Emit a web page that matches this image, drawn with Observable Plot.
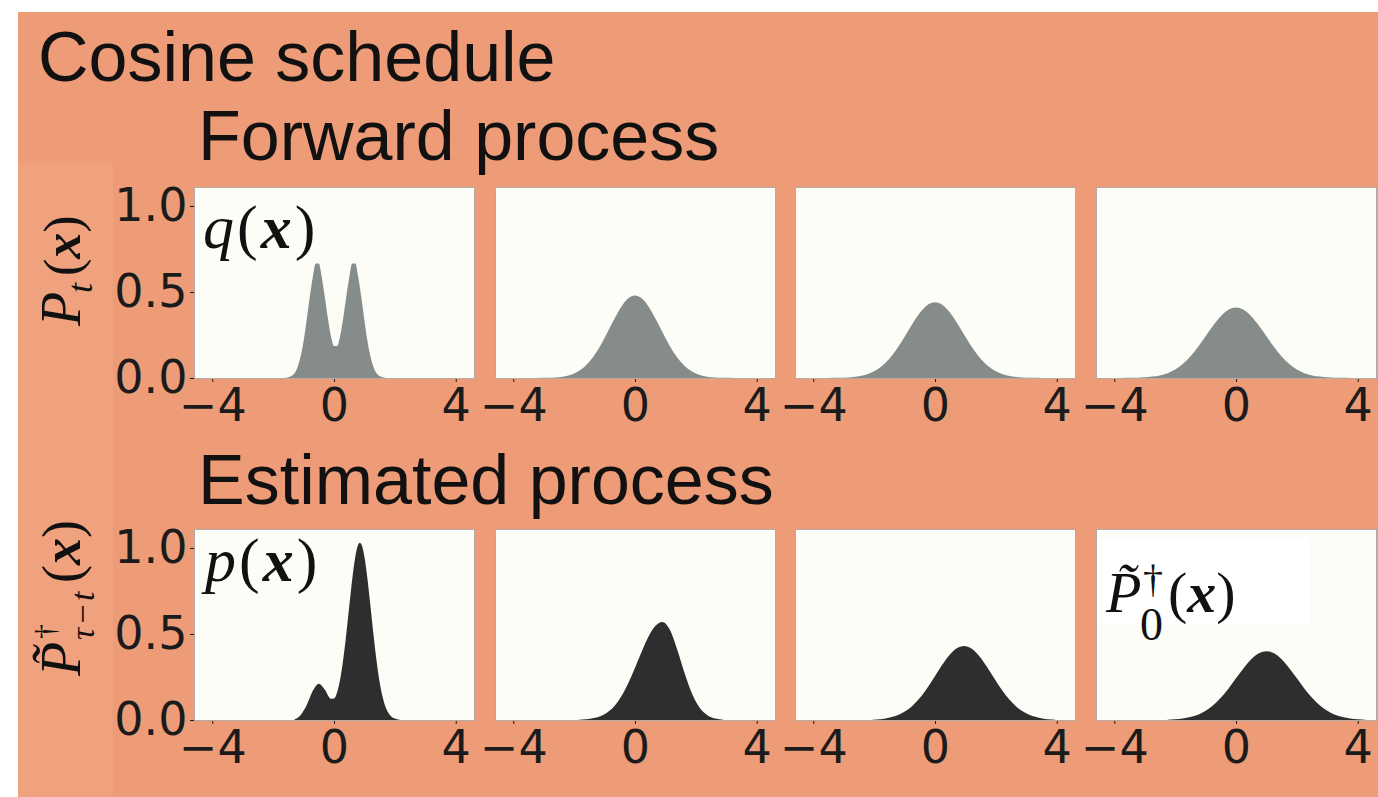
<!DOCTYPE html>
<html>
<head>
<meta charset="utf-8">
<script src="https://cdn.jsdelivr.net/npm/d3@7"></script>
<script src="https://cdn.jsdelivr.net/npm/@observablehq/plot@0.6"></script>
<style>
  html, body { margin: 0; padding: 0; background: #ffffff; }
  #root { position: relative; width: 1378px; height: 797px; overflow: hidden; background: #ffffff; }
  #root svg.panel { position: absolute; }
</style>
</head>
<body>
<div id="root"></div>
<script>
// ---------- data ----------
const xTicks = [-4, 0, 4];
const yTicks = [0, 0.5, 1];
const mainTitle = "Cosine schedule";
const rowTitles = ["Forward process", "Estimated process"];

// forward process, first panel q(x)
const qX = [-1.6,-1.4,-1.2,-1.1,-1.0,-0.9,-0.8,-0.7,-0.6,-0.5,-0.4,-0.3,-0.2,-0.1,0,0.1,0.2,0.3,0.4,0.5,0.6,0.7,0.8,0.9,1.0,1.1,1.2,1.3,1.5,1.7];
const qY = [0.001,0.012,0.063,0.123,0.214,0.334,0.466,0.582,0.665,0.665,0.583,0.470,0.346,0.243,0.186,0.186,0.243,0.346,0.470,0.583,0.665,0.665,0.582,0.466,0.334,0.214,0.123,0.063,0.012,0.001];

// forward process, panels 2-4 (shared x grid)
const fwdX = [-4,-3.75,-3.5,-3.25,-3,-2.75,-2.5,-2.25,-2,-1.75,-1.5,-1.25,-1,-0.75,-0.5,-0.25,0,0.25,0.5,0.75,1,1.25,1.5,1.75,2,2.25,2.5,2.75,3,3.25,3.5,3.75,4];
const fwd2Y = [0,0,0,0,0.001,0.002,0.005,0.012,0.026,0.052,0.094,0.154,0.232,0.319,0.400,0.459,0.480,0.459,0.400,0.319,0.232,0.154,0.094,0.052,0.026,0.012,0.005,0.002,0.001,0,0,0,0];
const fwd3Y = [0,0,0,0.001,0.002,0.004,0.010,0.020,0.039,0.068,0.112,0.170,0.240,0.313,0.378,0.424,0.440,0.424,0.378,0.313,0.240,0.170,0.112,0.068,0.039,0.020,0.010,0.004,0.002,0.001,0,0,0];
const fwd4Y = [0,0,0.001,0.002,0.004,0.008,0.015,0.028,0.050,0.081,0.125,0.180,0.242,0.305,0.359,0.397,0.410,0.397,0.359,0.305,0.242,0.180,0.125,0.081,0.050,0.028,0.015,0.008,0.004,0.002,0.001,0,0];

// estimated process, first panel p(x)
const pX = [-1.3,-1.1,-0.9,-0.7,-0.5,-0.3,-0.1,0,0.1,0.2,0.3,0.4,0.5,0.6,0.7,0.8,0.85,0.9,1.0,1.1,1.2,1.3,1.4,1.5,1.6,1.7,1.8,2.0,2.2];
const pY = [0.003,0.028,0.086,0.168,0.211,0.176,0.124,0.125,0.160,0.234,0.348,0.494,0.659,0.820,0.949,1.021,1.03,1.021,0.949,0.820,0.659,0.492,0.342,0.220,0.132,0.073,0.038,0.008,0];

// estimated process, panels 2-4
const est2X = [-1.85,-1.6,-1.35,-1.1,-0.85,-0.6,-0.35,-0.1,0.15,0.4,0.65,0.9,1.15,1.4,1.65,1.9,2.15,2.4,2.65,2.9];
const est2Y = [0.001,0.004,0.011,0.025,0.052,0.098,0.168,0.261,0.367,0.469,0.543,0.57,0.523,0.403,0.261,0.142,0.065,0.025,0.008,0.002];
const est3X = [-2.05,-1.8,-1.55,-1.3,-1.05,-0.8,-0.55,-0.3,-0.05,0.2,0.45,0.7,0.95,1.2,1.45,1.7,1.95,2.2,2.45,2.7,2.95,3.2,3.45,3.7,3.95];
const est3Y = [0.002,0.005,0.012,0.023,0.043,0.073,0.117,0.174,0.241,0.311,0.372,0.415,0.43,0.415,0.372,0.311,0.241,0.174,0.117,0.073,0.043,0.023,0.012,0.005,0.002];
const est4X = [-2.25,-2,-1.75,-1.5,-1.25,-1,-0.75,-0.5,-0.25,0,0.25,0.5,0.75,1,1.25,1.5,1.75,2,2.25,2.5,2.75,3,3.25,3.5,3.75,4,4.25];
const est4Y = [0.002,0.004,0.009,0.017,0.031,0.054,0.086,0.129,0.182,0.242,0.301,0.353,0.388,0.40,0.388,0.353,0.301,0.242,0.182,0.129,0.086,0.054,0.031,0.017,0.009,0.004,0.002];

// ---------- layout & style ----------
const colLeft = [194, 495, 795, 1096];
const rowTop = [187, 529];
const PW = 280, PH = 191;
const ML = 110, MR = 40, MT = 10, MB = 70;
const rowFill = ["#868c8a", "#2e2e2e"];
const bgOrange = "#ee9b77";

const series = [
  {row: 0, col: 0, x: qX, y: qY},
  {row: 0, col: 1, x: fwdX, y: fwd2Y},
  {row: 0, col: 2, x: fwdX, y: fwd3Y},
  {row: 0, col: 3, x: fwdX, y: fwd4Y},
  {row: 1, col: 0, x: pX, y: pY},
  {row: 1, col: 1, x: est2X, y: est2Y},
  {row: 1, col: 2, x: est3X, y: est3Y},
  {row: 1, col: 3, x: est4X, y: est4Y}
];

const root = document.getElementById("root");

// background
const bg = document.createElement("div");
bg.style.cssText = `position:absolute;left:18px;top:12px;right:0;bottom:0;background:${bgOrange}`;
root.appendChild(bg);
const strip = document.createElement("div");
strip.style.cssText = "position:absolute;left:18px;top:163px;width:95px;bottom:0;background:#f0a27f";
root.appendChild(strip);

const fmtX = d => d < 0 ? "\u2212" + (-d) : String(d);

for (const s of series) {
  const data = s.x.map((x, i) => ({x, y: s.y[i]}));
  const svg = Plot.plot({
    width: PW + ML + MR,
    height: PH + MT + MB,
    marginLeft: ML, marginRight: MR, marginTop: MT, marginBottom: MB,
    style: {
      background: "transparent", overflow: "visible", maxWidth: "none",
      fontFamily: "DejaVu Sans, sans-serif", fontSize: "46px", color: "#1b1b1b"
    },
    x: {domain: [-4.6, 4.6], ticks: xTicks, tickSize: 4, tickPadding: 6, tickFormat: fmtX, label: null},
    y: s.col === 0
      ? {domain: [0, 1.11], ticks: yTicks, tickSize: 4, tickPadding: 3, tickFormat: d3.format(".1f"), label: null}
      : {domain: [0, 1.11], axis: null},
    marks: [
      Plot.frame({fill: "#fcfdf7", stroke: "none"}),
      Plot.areaY(data, {x: "x", y: "y", fill: rowFill[s.row], curve: "monotone-x"}),
      Plot.frame({stroke: "#b4aaa3", strokeWidth: 1})
    ]
  });
  svg.classList.add("panel");
  svg.style.left = (colLeft[s.col] - ML) + "px";
  svg.style.top = (rowTop[s.row] - MT) + "px";
  root.appendChild(svg);
}

// ---------- text overlay ----------
const NS = "http://www.w3.org/2000/svg";
const ov = document.createElementNS(NS, "svg");
ov.setAttribute("width", 1378);
ov.setAttribute("height", 797);
ov.style.cssText = "position:absolute;left:0;top:0;pointer-events:none";
ov.innerHTML = `
  <g font-family="Liberation Sans, Arial, sans-serif" font-size="70" fill="#111">
    <text x="38" y="81">${mainTitle}</text>
    <text x="198" y="160">${rowTitles[0]}</text>
    <text x="198" y="504">${rowTitles[1]}</text>
  </g>
  <g font-family="Liberation Serif, serif" fill="#111">
    <g transform="translate(80,326) rotate(-90)">
      <text x="0" y="0" font-size="56" font-style="italic">P</text>
      <text x="33" y="12" font-size="36" font-style="italic">t</text>
      <text x="50" y="0" font-size="52">(<tspan font-weight="bold" font-style="italic">x</tspan>)</text>
    </g>
    <g transform="translate(80,676) rotate(-90)">
      <text x="0" y="0" font-size="56" font-style="italic">P\u0303</text>
      <text x="37" y="-25" font-size="30">\u2020</text>
      <text x="36" y="14" font-size="34" font-style="italic" letter-spacing="2">\u03C4\u2212t</text>
      <text x="93" y="0" font-size="54">(<tspan font-weight="bold" font-style="italic">x</tspan>)</text>
    </g>
    <text x="203" y="248" font-size="62" letter-spacing="3"><tspan font-style="italic">q</tspan>(<tspan font-weight="bold" font-style="italic">x</tspan>)</text>
    <text x="205" y="581" font-size="62" letter-spacing="3"><tspan font-style="italic">p</tspan>(<tspan font-weight="bold" font-style="italic">x</tspan>)</text>
    <rect x="1097" y="538" width="213" height="87" fill="#ffffff"/>
    <text x="1106" y="612" font-size="58" font-style="italic">P\u0303</text>
    <text x="1143" y="592" font-size="40">\u2020</text>
    <text x="1140" y="640" font-size="46">0</text>
    <text x="1168" y="612" font-size="58">(<tspan font-weight="bold" font-style="italic">x</tspan>)</text>
  </g>
`;
root.appendChild(ov);
</script>
</body>
</html>
